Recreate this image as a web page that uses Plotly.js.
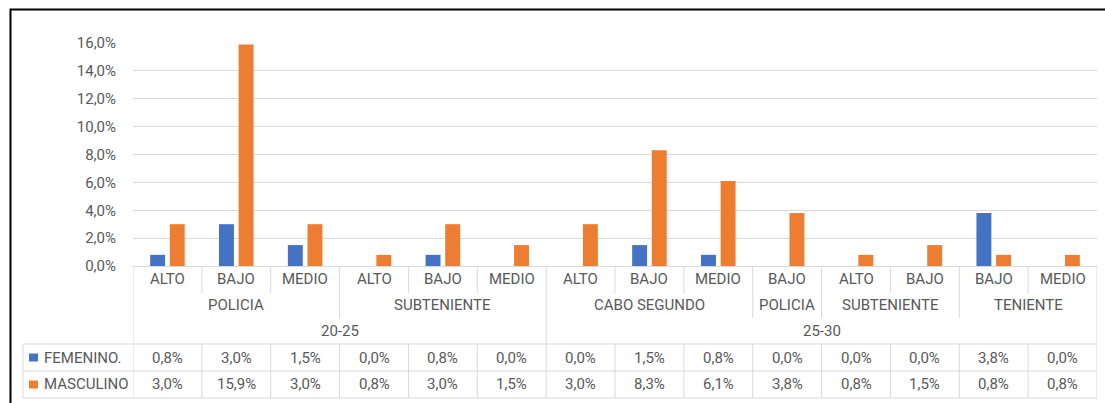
<!DOCTYPE html>
<html>
<head>
<meta charset="utf-8">
<script src="https://cdn.plot.ly/plotly-3.0.1.min.js"></script>
<style>
html,body{margin:0;padding:0;background:#fff;}
#chart{width:1105px;height:403px;}
</style>
</head>
<body>
<div id="chart"></div>
<script>
// ---- data ----
const ageLabels   = ['20-25','20-25','20-25','20-25','20-25','20-25','25-30','25-30','25-30','25-30','25-30','25-30','25-30','25-30'];
const rankLabels  = ['POLICIA','POLICIA','POLICIA','SUBTENIENTE','SUBTENIENTE','SUBTENIENTE','CABO SEGUNDO','CABO SEGUNDO','CABO SEGUNDO','POLICIA','SUBTENIENTE','SUBTENIENTE','TENIENTE','TENIENTE'];
const levelLabels = ['ALTO','BAJO','MEDIO','ALTO','BAJO','MEDIO','ALTO','BAJO','MEDIO','BAJO','ALTO','BAJO','BAJO','MEDIO'];
const femenino    = [0.8,3.0,1.5,0.0,0.8,0.0,0.0,1.5,0.8,0.0,0.0,0.0,3.8,0.0];
const masculino   = [3.0,15.9,3.0,0.8,3.0,1.5,3.0,8.3,6.1,3.8,0.8,1.5,0.8,0.8];
const seriesNames = ['FEMENINO.','MASCULINO'];
const yTicks      = [0,2,4,6,8,10,12,14,16];

// ---- style ----
const BLUE = '#4472C4', ORANGE = '#ED7D31', GRID = '#D9D9D9', TXT = '#595959';
const FONT = {family: 'Roboto, "Open Sans", sans-serif', size: 15, color: TXT};
const n = levelLabels.length;

// plot geometry (pixels) for converting table rows into paper coords
const PLOT_TOP = 43, PLOT_BOTTOM = 266, PLOT_LEFT = 133, PLOT_RIGHT = 1097;
const PH = PLOT_BOTTOM - PLOT_TOP, PW = PLOT_RIGHT - PLOT_LEFT;
const py = p => (PLOT_BOTTOM - p) / PH;
const px = p => (p - PLOT_LEFT) / PW;

const fmt = v => v.toFixed(1).replace('.', ',') + '%';

const xs = levelLabels.map((_, i) => i);
const traces = [
  {type:'bar', x: xs, y: femenino, name: seriesNames[0], marker:{color: BLUE}, hoverinfo:'skip'},
  {type:'bar', x: xs, y: masculino, name: seriesNames[1], marker:{color: ORANGE}, hoverinfo:'skip'}
];

const annotations = [];
const shapes = [];
const line = (x0, x1, y0, y1, xref) => shapes.push({type:'line', xref: xref || 'x', yref:'paper', x0, x1, y0, y1, line:{color: GRID, width: 1}});

const Y_LEVEL = py(279), Y_RANK = py(305), Y_AGE = py(331);
const Y_T0 = py(344), Y_T1 = py(371), Y_T2 = py(398);
const Y_R1 = py(357.5), Y_R2 = py(384.5);
const Y_SEP1 = py(293), Y_SEP2 = py(318);

// level labels
levelLabels.forEach((t, i) => annotations.push({x: i, y: Y_LEVEL, xref:'x', yref:'paper', text: t, showarrow:false, font: FONT, yanchor:'middle'}));

// runs helper
function runs(keyFn) {
  const out = [];
  let start = 0;
  for (let i = 1; i <= n; i++) {
    if (i === n || keyFn(i) !== keyFn(start)) { out.push([start, i - 1]); start = i; }
  }
  return out;
}
runs(i => ageLabels[i] + '|' + rankLabels[i]).forEach(([a, b]) =>
  annotations.push({x: (a + b) / 2, y: Y_RANK, xref:'x', yref:'paper', text: rankLabels[a], showarrow:false, font: FONT, yanchor:'middle'}));
runs(i => ageLabels[i]).forEach(([a, b]) =>
  annotations.push({x: (a + b) / 2, y: Y_AGE, xref:'x', yref:'paper', text: ageLabels[a], showarrow:false, font: FONT, yanchor:'middle'}));

// header separators
for (let i = 0; i <= n; i++) {
  const xb = i - 0.5;
  let yEnd;
  if (i === 0 || i === n || ageLabels[i] !== ageLabels[i - 1]) yEnd = Y_T0;
  else if (rankLabels[i] !== rankLabels[i - 1]) yEnd = Y_SEP2;
  else yEnd = Y_SEP1;
  line(xb, xb, 0, yEnd);
  line(xb, xb, Y_T0, Y_T2);
}
// table horizontal lines
[Y_T0, Y_T1, Y_T2].forEach(y => line(px(23), 1, y, y, 'paper'));
line(px(23), px(23), Y_T0, Y_T2, 'paper');

// table values
[[femenino, Y_R1], [masculino, Y_R2]].forEach(([arr, y]) =>
  arr.forEach((v, i) => annotations.push({x: i, y, xref:'x', yref:'paper', text: fmt(v), showarrow:false, font: FONT, yanchor:'middle'})));

// legend keys inside the table
[[seriesNames[0], BLUE, Y_R1], [seriesNames[1], ORANGE, Y_R2]].forEach(([name, col, y]) => {
  shapes.push({type:'rect', xref:'paper', yref:'paper', x0: px(29), x1: px(38), y0: y - 4 / PH, y1: y + 4 / PH, fillcolor: col, line:{width:0}});
  annotations.push({x: px(42), y, xref:'paper', yref:'paper', text: name, showarrow:false, font: FONT, xanchor:'left', yanchor:'middle'});
});

// outer chart border
shapes.push({type:'rect', xref:'paper', yref:'paper', x0: px(10.5), x1: px(1120), y0: py(9.5), y1: py(420), line:{color:'#000', width:2}, fillcolor:'rgba(0,0,0,0)'});

const layout = {
  width: 1105, height: 403,
  margin: {l: PLOT_LEFT, r: 1105 - PLOT_RIGHT, t: PLOT_TOP, b: 403 - PLOT_BOTTOM, pad: 0},
  paper_bgcolor: '#fff', plot_bgcolor: '#fff',
  separators: ',.',
  barmode: 'group', bargap: 0.43, bargroupgap: 0.24,
  showlegend: false,
  font: FONT,
  xaxis: {range: [-0.5, n - 0.5], showticklabels: false, showgrid: false, zeroline: false, showline: true, linecolor: GRID, linewidth: 1, fixedrange: true},
  yaxis: {range: [0, 16], tickvals: yTicks, ticktext: yTicks.map(fmt), showgrid: true, gridcolor: GRID, gridwidth: 1, zeroline: false, showline: false,
          ticks: 'outside', ticklen: 13, tickcolor: 'rgba(0,0,0,0)', tickfont: FONT, fixedrange: true},
  annotations, shapes
};

Plotly.newPlot('chart', traces, layout, {displayModeBar: false, staticPlot: true});
</script>
</body>
</html>
